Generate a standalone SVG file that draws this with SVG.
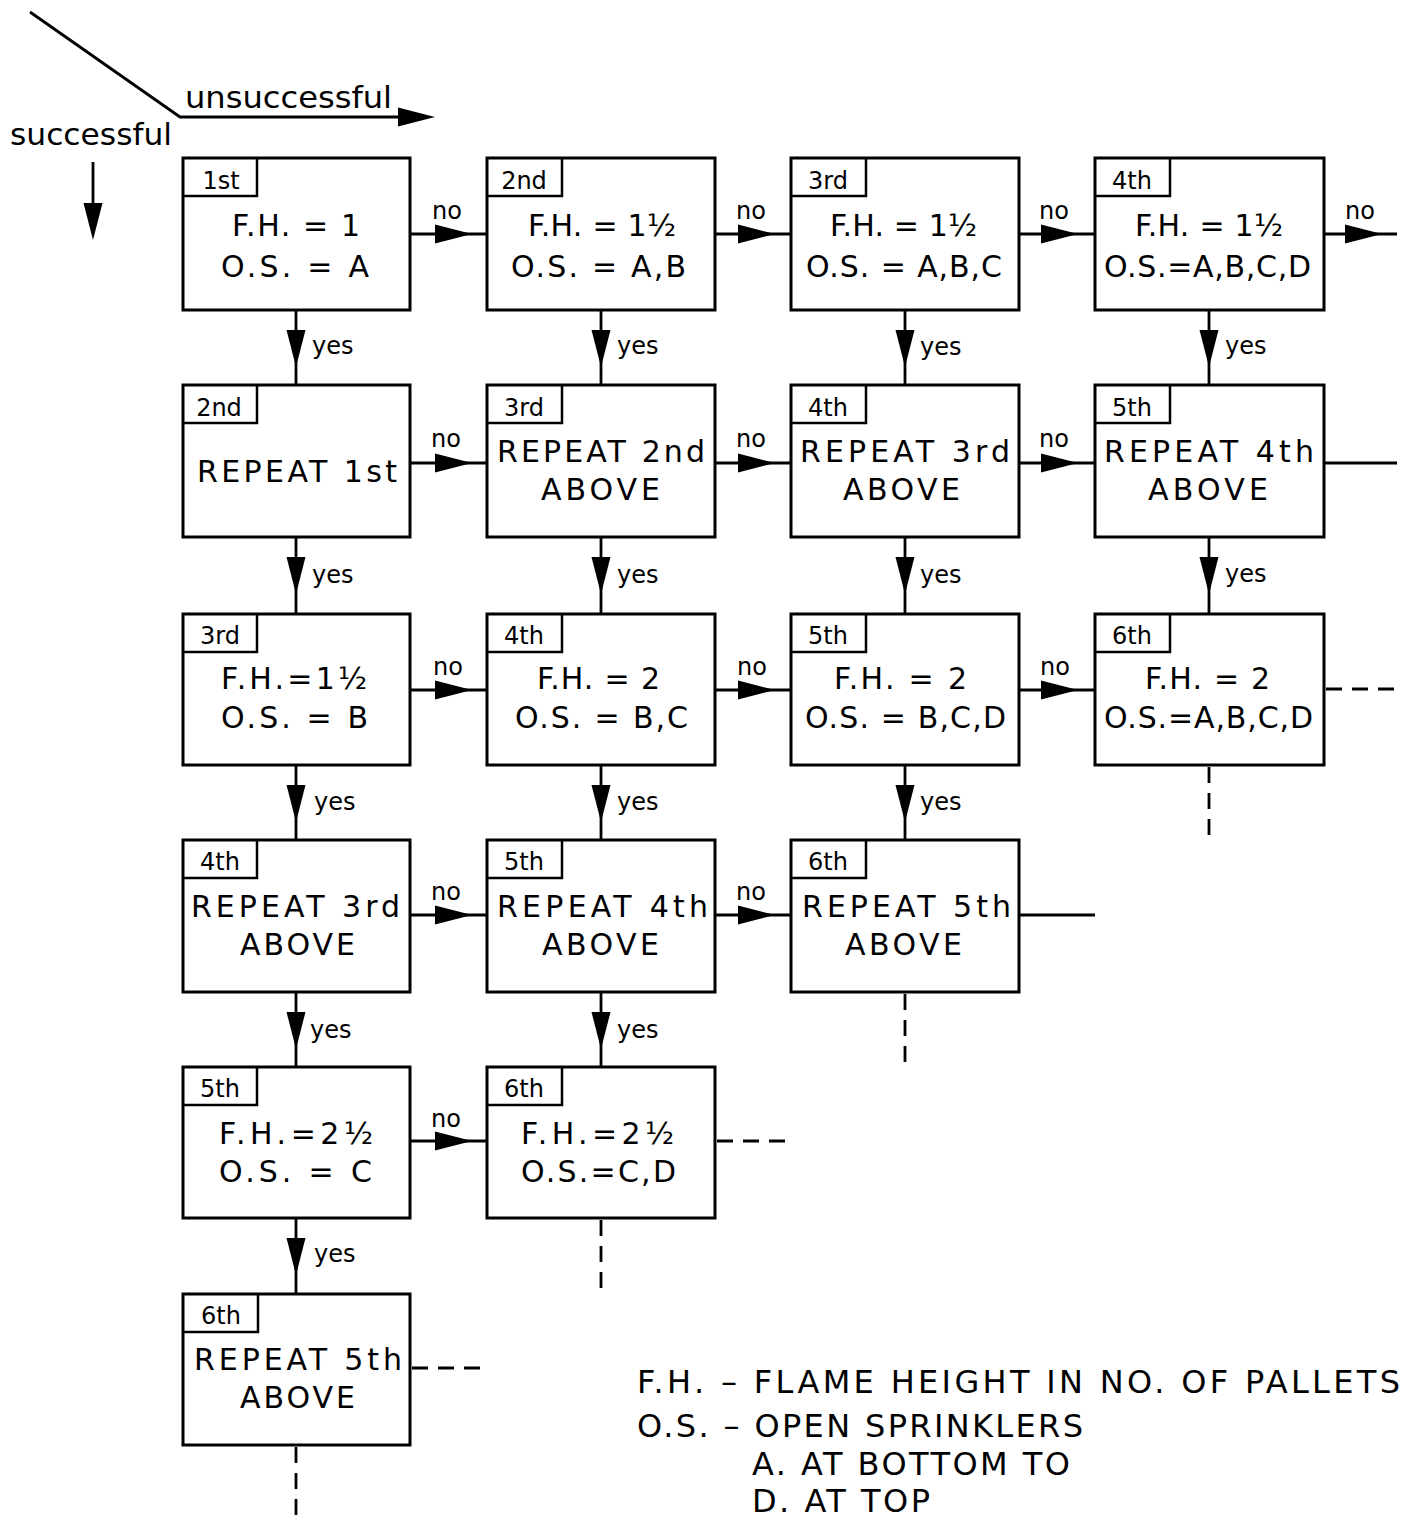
<svg xmlns="http://www.w3.org/2000/svg" xmlns:xlink="http://www.w3.org/1999/xlink" width="1404" height="1521" viewBox="0 0 1404 1521">
<style>
  .box{fill:#fff;stroke:#000;stroke-width:3}
  .tab{fill:none;stroke:#000;stroke-width:2.5}
  .t{font-family:"DejaVu Sans","Liberation Sans",sans-serif;font-size:30px;fill:#000}
  .tt{font-family:"DejaVu Sans","Liberation Sans",sans-serif;font-size:24px;fill:#000;text-anchor:middle}
  .lb{font-family:"DejaVu Sans","Liberation Sans",sans-serif;font-size:24px;fill:#000}
  .hd{font-family:"DejaVu Sans","Liberation Sans",sans-serif;font-size:30px;fill:#000}
  .lg{font-family:"DejaVu Sans","Liberation Sans",sans-serif;font-size:32px;fill:#000}
  .ln{stroke:#000;stroke-width:2.8;fill:none}
  .dash{stroke:#000;stroke-width:2.8;fill:none;stroke-dasharray:16,10}
</style>
<defs>
  <path id="ah" d="M0,-9.5 L37,0 L0,9.5 Z" fill="#000"/>
</defs>

<!-- header -->
<g id="header">
  <path class="ln" d="M30,12 L180,117 H400"/>
  <use xlink:href="#ah" transform="translate(398,117)"/>
  <text class="hd" x="185" y="108" textLength="207" lengthAdjust="spacingAndGlyphs">unsuccessful</text>
  <text class="hd" x="10" y="145" textLength="162" lengthAdjust="spacingAndGlyphs">successful</text>
  <path class="ln" d="M93,162 V206"/>
  <use xlink:href="#ah" transform="translate(93,203) rotate(90)"/>
</g>

<!-- connectors -->
<g id="connectors">
  <!-- row1 no -->
  <path class="ln" d="M410,234 H487 M715,234 H791 M1019,234 H1095 M1324,234 H1397"/>
  <use xlink:href="#ah" transform="translate(435,234)"/>
  <use xlink:href="#ah" transform="translate(738,234)"/>
  <use xlink:href="#ah" transform="translate(1041,234)"/>
  <use xlink:href="#ah" transform="translate(1345,234)"/>
  <!-- row2 -->
  <path class="ln" d="M410,463 H487 M715,463 H791 M1019,463 H1095 M1324,463 H1397"/>
  <use xlink:href="#ah" transform="translate(435,463)"/>
  <use xlink:href="#ah" transform="translate(738,463)"/>
  <use xlink:href="#ah" transform="translate(1041,463)"/>
  <!-- row3 -->
  <path class="ln" d="M410,690 H487 M715,690 H791 M1019,690 H1095"/>
  <use xlink:href="#ah" transform="translate(435,690)"/>
  <use xlink:href="#ah" transform="translate(738,690)"/>
  <use xlink:href="#ah" transform="translate(1041,690)"/>
  <path class="dash" d="M1326,689 H1400"/>
  <!-- row4 -->
  <path class="ln" d="M410,915 H487 M715,915 H791 M1019,915 H1095"/>
  <use xlink:href="#ah" transform="translate(435,915)"/>
  <use xlink:href="#ah" transform="translate(738,915)"/>
  <!-- row5 -->
  <path class="ln" d="M410,1141 H487"/>
  <use xlink:href="#ah" transform="translate(435,1141)"/>
  <path class="dash" d="M717,1141 H795"/>
  <!-- row6 -->
  <path class="dash" d="M412,1368 H487"/>

  <!-- yes verticals col1 -->
  <path class="ln" d="M296,310 V385 M296,537 V614 M296,765 V840 M296,992 V1067 M296,1218 V1294"/>
  <use xlink:href="#ah" transform="translate(296,330) rotate(90)"/>
  <use xlink:href="#ah" transform="translate(296,557) rotate(90)"/>
  <use xlink:href="#ah" transform="translate(296,785) rotate(90)"/>
  <use xlink:href="#ah" transform="translate(296,1012) rotate(90)"/>
  <use xlink:href="#ah" transform="translate(296,1238) rotate(90)"/>
  <path class="dash" d="M296,1447 V1520"/>
  <!-- col2 -->
  <path class="ln" d="M601,310 V385 M601,537 V614 M601,765 V840 M601,992 V1067"/>
  <use xlink:href="#ah" transform="translate(601,330) rotate(90)"/>
  <use xlink:href="#ah" transform="translate(601,557) rotate(90)"/>
  <use xlink:href="#ah" transform="translate(601,785) rotate(90)"/>
  <use xlink:href="#ah" transform="translate(601,1012) rotate(90)"/>
  <path class="dash" d="M601,1220 V1297"/>
  <!-- col3 -->
  <path class="ln" d="M905,310 V385 M905,537 V614 M905,765 V840"/>
  <use xlink:href="#ah" transform="translate(905,330) rotate(90)"/>
  <use xlink:href="#ah" transform="translate(905,557) rotate(90)"/>
  <use xlink:href="#ah" transform="translate(905,785) rotate(90)"/>
  <path class="dash" d="M905,994 V1067"/>
  <!-- col4 -->
  <path class="ln" d="M1209,310 V385 M1209,537 V614"/>
  <use xlink:href="#ah" transform="translate(1209,330) rotate(90)"/>
  <use xlink:href="#ah" transform="translate(1209,557) rotate(90)"/>
  <path class="dash" d="M1209,767 V835"/>

  <!-- labels -->
  <text class="lb" x="432" y="219">no</text>
  <text class="lb" x="736" y="219">no</text>
  <text class="lb" x="1039" y="219">no</text>
  <text class="lb" x="1345" y="219">no</text>
  <text class="lb" x="431" y="447">no</text>
  <text class="lb" x="736" y="447">no</text>
  <text class="lb" x="1039" y="447">no</text>
  <text class="lb" x="433" y="675">no</text>
  <text class="lb" x="737" y="675">no</text>
  <text class="lb" x="1040" y="675">no</text>
  <text class="lb" x="431" y="900">no</text>
  <text class="lb" x="736" y="900">no</text>
  <text class="lb" x="431" y="1127">no</text>

  <text class="lb" x="312" y="354">yes</text>
  <text class="lb" x="617" y="354">yes</text>
  <text class="lb" x="920" y="355">yes</text>
  <text class="lb" x="1225" y="354">yes</text>
  <text class="lb" x="312" y="583">yes</text>
  <text class="lb" x="617" y="583">yes</text>
  <text class="lb" x="920" y="583">yes</text>
  <text class="lb" x="1225" y="582">yes</text>
  <text class="lb" x="314" y="810">yes</text>
  <text class="lb" x="617" y="810">yes</text>
  <text class="lb" x="920" y="810">yes</text>
  <text class="lb" x="310" y="1038">yes</text>
  <text class="lb" x="617" y="1038">yes</text>
  <text class="lb" x="314" y="1262">yes</text>
</g>

<!-- nodes -->
<g id="n-r1c1"><rect class="box" x="183" y="158" width="227" height="152"/><path class="tab" d="M183,196 H257 V158"/><text class="tt" x="221" y="189">1st</text>
  <text class="t" x="232" y="236" textLength="128" lengthAdjust="spacing">F.H. = 1</text><text class="t" x="221" y="277" textLength="148" lengthAdjust="spacing">O.S. = A</text></g>
<g id="n-r1c2"><rect class="box" x="487" y="158" width="228" height="152"/><path class="tab" d="M487,196 H562 V158"/><text class="tt" x="524" y="189">2nd</text>
  <text class="t" x="528" y="236" textLength="148" lengthAdjust="spacing">F.H. = 1½</text><text class="t" x="511" y="277" textLength="175" lengthAdjust="spacing">O.S. = A,B</text></g>
<g id="n-r1c3"><rect class="box" x="791" y="158" width="228" height="152"/><path class="tab" d="M791,196 H866 V158"/><text class="tt" x="828" y="189">3rd</text>
  <text class="t" x="830" y="236" textLength="147" lengthAdjust="spacing">F.H. = 1½</text><text class="t" x="806" y="277" textLength="196" lengthAdjust="spacing">O.S. = A,B,C</text></g>
<g id="n-r1c4"><rect class="box" x="1095" y="158" width="229" height="152"/><path class="tab" d="M1095,196 H1170 V158"/><text class="tt" x="1132" y="189">4th</text>
  <text class="t" x="1135" y="236" textLength="148" lengthAdjust="spacing">F.H. = 1½</text><text class="t" x="1104" y="277" textLength="207" lengthAdjust="spacing">O.S.=A,B,C,D</text></g>

<g id="n-r2c1"><rect class="box" x="183" y="385" width="227" height="152"/><path class="tab" d="M183,423 H257 V385"/><text class="tt" x="219" y="416">2nd</text>
  <text class="t" x="197" y="482" textLength="200" lengthAdjust="spacing">REPEAT  1st</text></g>
<g id="n-r2c2"><rect class="box" x="487" y="385" width="228" height="152"/><path class="tab" d="M487,423 H562 V385"/><text class="tt" x="524" y="416">3rd</text>
  <text class="t" x="497" y="462" textLength="208" lengthAdjust="spacing">REPEAT 2nd</text><text class="t" x="541" y="500" textLength="119" lengthAdjust="spacing">ABOVE</text></g>
<g id="n-r2c3"><rect class="box" x="791" y="385" width="228" height="152"/><path class="tab" d="M791,423 H866 V385"/><text class="tt" x="828" y="416">4th</text>
  <text class="t" x="800" y="462" textLength="210" lengthAdjust="spacing">REPEAT 3rd</text><text class="t" x="843" y="500" textLength="117" lengthAdjust="spacing">ABOVE</text></g>
<g id="n-r2c4"><rect class="box" x="1095" y="385" width="229" height="152"/><path class="tab" d="M1095,423 H1170 V385"/><text class="tt" x="1132" y="416">5th</text>
  <text class="t" x="1104" y="462" textLength="210" lengthAdjust="spacing">REPEAT  4th</text><text class="t" x="1148" y="500" textLength="120" lengthAdjust="spacing">ABOVE</text></g>

<g id="n-r3c1"><rect class="box" x="183" y="614" width="227" height="151"/><path class="tab" d="M183,652 H257 V614"/><text class="tt" x="220" y="644">3rd</text>
  <text class="t" x="221" y="689" textLength="146" lengthAdjust="spacing">F.H.=1½</text><text class="t" x="221" y="728" textLength="147" lengthAdjust="spacing">O.S. = B</text></g>
<g id="n-r3c2"><rect class="box" x="487" y="614" width="228" height="151"/><path class="tab" d="M487,652 H562 V614"/><text class="tt" x="524" y="644">4th</text>
  <text class="t" x="537" y="689" textLength="123" lengthAdjust="spacing">F.H. = 2</text><text class="t" x="515" y="728" textLength="173" lengthAdjust="spacing">O.S. = B,C</text></g>
<g id="n-r3c3"><rect class="box" x="791" y="614" width="228" height="151"/><path class="tab" d="M791,652 H866 V614"/><text class="tt" x="828" y="644">5th</text>
  <text class="t" x="834" y="689" textLength="133" lengthAdjust="spacing">F.H. = 2</text><text class="t" x="805" y="728" textLength="201" lengthAdjust="spacing">O.S. = B,C,D</text></g>
<g id="n-r3c4"><rect class="box" x="1095" y="614" width="229" height="151"/><path class="tab" d="M1095,652 H1170 V614"/><text class="tt" x="1132" y="644">6th</text>
  <text class="t" x="1145" y="689" textLength="125" lengthAdjust="spacing">F.H. = 2</text><text class="t" x="1104" y="728" textLength="209" lengthAdjust="spacing">O.S.=A,B,C,D</text></g>

<g id="n-r4c1"><rect class="box" x="183" y="840" width="227" height="152"/><path class="tab" d="M183,878 H257 V840"/><text class="tt" x="220" y="870">4th</text>
  <text class="t" x="191" y="917" textLength="209" lengthAdjust="spacing">REPEAT 3rd</text><text class="t" x="240" y="955" textLength="115" lengthAdjust="spacing">ABOVE</text></g>
<g id="n-r4c2"><rect class="box" x="487" y="840" width="228" height="152"/><path class="tab" d="M487,878 H562 V840"/><text class="tt" x="524" y="870">5th</text>
  <text class="t" x="497" y="917" textLength="211" lengthAdjust="spacing">REPEAT  4th</text><text class="t" x="542" y="955" textLength="117" lengthAdjust="spacing">ABOVE</text></g>
<g id="n-r4c3"><rect class="box" x="791" y="840" width="228" height="152"/><path class="tab" d="M791,878 H866 V840"/><text class="tt" x="828" y="870">6th</text>
  <text class="t" x="802" y="917" textLength="209" lengthAdjust="spacing">REPEAT  5th</text><text class="t" x="845" y="955" textLength="117" lengthAdjust="spacing">ABOVE</text></g>

<g id="n-r5c1"><rect class="box" x="183" y="1067" width="227" height="151"/><path class="tab" d="M183,1105 H257 V1067"/><text class="tt" x="220" y="1097">5th</text>
  <text class="t" x="219" y="1144" textLength="154" lengthAdjust="spacing">F.H.=2½</text><text class="t" x="219" y="1182" textLength="153" lengthAdjust="spacing">O.S. = C</text></g>
<g id="n-r5c2"><rect class="box" x="487" y="1067" width="228" height="151"/><path class="tab" d="M487,1105 H562 V1067"/><text class="tt" x="524" y="1097">6th</text>
  <text class="t" x="521" y="1144" textLength="153" lengthAdjust="spacing">F.H.=2½</text><text class="t" x="521" y="1182" textLength="155" lengthAdjust="spacing">O.S.=C,D</text></g>

<g id="n-r6c1"><rect class="box" x="183" y="1294" width="227" height="151"/><path class="tab" d="M183,1332 H258 V1294"/><text class="tt" x="221" y="1324">6th</text>
  <text class="t" x="194" y="1370" textLength="208" lengthAdjust="spacing">REPEAT  5th</text><text class="t" x="240" y="1408" textLength="115" lengthAdjust="spacing">ABOVE</text></g>

<!-- legend -->
<g id="legend">
  <text class="lg" x="637" y="1393" textLength="763" lengthAdjust="spacing">F.H. – FLAME HEIGHT IN NO. OF PALLETS</text>
  <text class="lg" x="637" y="1437" textLength="446" lengthAdjust="spacing">O.S. – OPEN SPRINKLERS</text>
  <text class="lg" x="752" y="1475" textLength="318" lengthAdjust="spacing">A. AT BOTTOM TO</text>
  <text class="lg" x="752" y="1512" textLength="178" lengthAdjust="spacing">D. AT TOP</text>
</g>
</svg>
